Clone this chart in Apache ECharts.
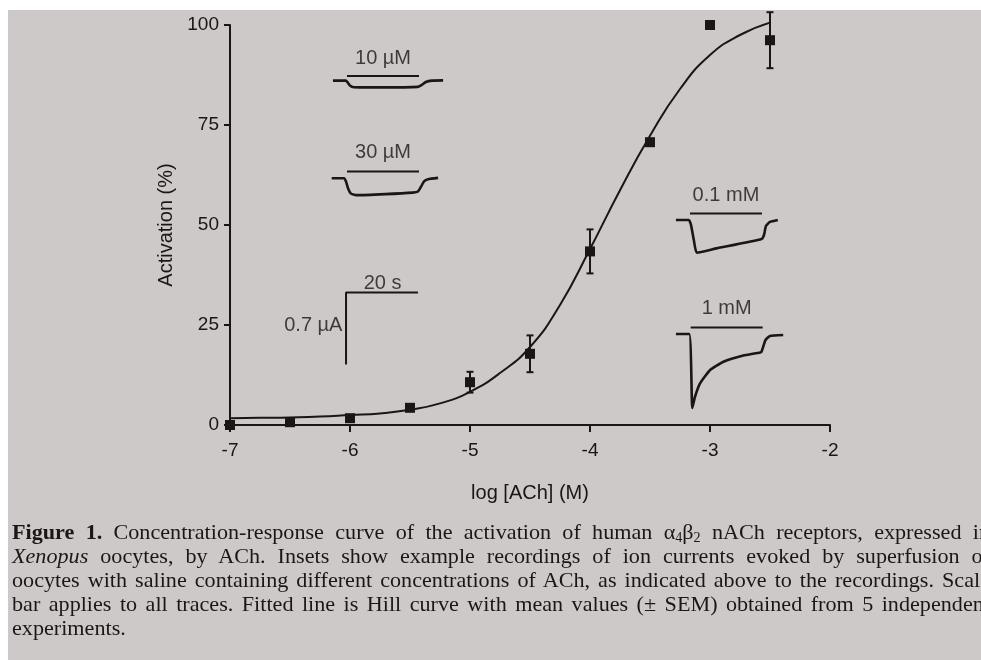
<!DOCTYPE html>
<html>
<head>
<meta charset="utf-8">
<script src="https://cdn.jsdelivr.net/npm/echarts@6/dist/echarts.min.js"></script>
<style>
  html, body { margin: 0; padding: 0; width: 981px; height: 660px; overflow: hidden; background: #fff; }
  #bg { position: absolute; left: 8px; top: 10px; right: 0; bottom: 0; background: #cdc9c8; }
  #chart { position: absolute; left: 0; top: 0; width: 981px; height: 660px; }
  #caption { position: absolute; left: 12px; top: 520px; width: 978px; transform-origin: left top;
    font-family: 'Liberation Serif', 'DejaVu Serif', serif; font-size: 22px; line-height: 24px; color: #1b1717; }
  #caption div { text-align: justify; text-align-last: justify; white-space: nowrap; }
  #caption div.last { text-align-last: left; }
  #caption sub { font-size: 14px; vertical-align: -3px; line-height: 0; }
</style>
</head>
<body>
<div id="bg"></div>
<div id="chart"></div>
<div id="caption">
  <div><span><b>Figure 1.</b> Concentration-response curve of the activation of human α<sub>4</sub>β<sub>2</sub> nACh receptors, expressed in</span></div>
  <div><span><i>Xenopus</i> oocytes, by ACh. Insets show example recordings of ion currents evoked by superfusion of</span></div>
  <div><span id="widest">oocytes with saline containing different concentrations of ACh, as indicated above to the recordings. Scale</span></div>
  <div><span>bar applies to all traces. Fitted line is Hill curve with mean values (± SEM) obtained from 5 independent</span></div>
  <div class="last"><span>experiments.</span></div>
</div>
<script>
// concentration-response data, log [ACh] (M) vs activation (%)
const doseLog = [-7, -6.5, -6, -5.5, -5, -4.5, -4, -3.5, -3, -2.5];
const activation = [0, 0.7, 1.7, 4.3, 10.7, 17.8, 43.4, 70.7, 100, 96.2];
const sem = [0, 0, 0, 0.8, 2.6, 4.6, 5.5, 0, 0, 7];

// fitted Hill curve
const fitLog = [-7, -6.75, -6.5, -6.25, -6, -5.75, -5.5, -5.25, -5, -4.75, -4.5, -4.25, -4, -3.75, -3.5, -3.25, -3, -2.75, -2.5];
const fitValues = [1.7, 1.8, 1.9, 2.1, 2.5, 2.9, 3.8, 5.4, 8.3, 13, 19.5, 30, 44, 58.7, 72.3, 84, 92.5, 97.5, 100.6];

// inset recordings: [time (s) from start of application, current (µA)]
const trace10uM = [[-3.9, 0], [-0.3, 0], [0.8, -0.047], [1.9, -0.064], [9.2, -0.066], [19.7, -0.061], [20.8, -0.042], [21.9, -0.013], [23.6, 0], [26.7, 0.002]];
const trace30uM = [[-4.25, 0], [-0.8, 0], [-0.3, -0.03], [0.3, -0.1], [1.1, -0.15], [2.5, -0.165], [10.6, -0.155], [18.3, -0.14], [19.7, -0.13], [20.6, -0.08], [21.4, -0.03], [22.5, -0.01], [25.3, 0.003]];
const trace01mM = [[-3.9, 0], [-0.3, 0], [0.3, -0.05], [1.1, -0.2], [1.9, -0.318], [7.4, -0.276], [19.9, -0.185], [20.6, -0.141], [21.1, -0.058], [22.2, -0.019], [24.4, 0]];
const trace1mM = [[-4.1, 0], [-0.4, 0], [0.44, -0.72], [1.2, -0.61], [2.6, -0.48], [5.4, -0.35], [9.1, -0.27], [14.6, -0.21], [19.3, -0.18], [19.7, -0.17], [20.8, -0.058], [22.0, -0.019], [25.7, -0.01]];
const insetLabels = ['10 µM', '30 µM', '0.1 mM', '1 mM'];
const applicationTime = 20; // s, bar length
const scaleBarTime = 20;    // s
const scaleBarCurrent = 0.7; // µA

// scale bar: 20 s = 0.6 log units, 0.7 µA = 18 % on the chart axes
const secToX = 0.6 / scaleBarTime;
const uaToY = 18 / scaleBarCurrent;

const ink = '#1a1616';
const font = "'Liberation Sans', Arial, sans-serif";

// caption: squeeze the serif text so the densest line just fills the block
const cap = document.getElementById('caption');
const fit = 985 / document.getElementById('widest').getBoundingClientRect().width;
cap.style.width = (978 / fit) + 'px';
cap.style.transform = 'scaleX(' + fit + ')';

// where each inset sits on the chart (x of bar start, y of baseline)
const insetPlace = [
  { x0: -6.025, y0: 86.1, bar: 1.15, label: 4.4 },
  { x0: -6.025, y0: 61.7, bar: 1.65, label: 4.8 },
  { x0: -3.167, y0: 51.25, bar: 1.65, label: 4.55 },
  { x0: -3.161, y0: 22.75, bar: 1.65, label: 4.75 }
];
const traces = [trace10uM, trace30uM, trace01mM, trace1mM];

const chart = echarts.init(document.getElementById('chart'));

const lineSeries = (data, width, smooth) => ({
  type: 'line',
  data: data,
  symbol: 'none',
  smooth: smooth || false,
  clip: false,
  silent: true,
  lineStyle: { color: ink, width: width },
  z: 3
});

const series = [];

traces.forEach((tr, i) => {
  const p = insetPlace[i];
  series.push(lineSeries(tr.map(d => [p.x0 + d[0] * secToX, p.y0 + d[1] * uaToY]), 2.6, 0.15));
  series.push(lineSeries([[p.x0, p.y0 + p.bar], [p.x0 + applicationTime * secToX, p.y0 + p.bar]], 2));
});

// scale bar
const sbX = -6.033, sbY = 33.1;
series.push(lineSeries([
  [sbX, sbY - scaleBarCurrent * uaToY],
  [sbX, sbY],
  [sbX + scaleBarTime * secToX, sbY]
], 2));

// text labels on the chart
const labelItems = insetLabels.map((t, i) => {
  const p = insetPlace[i];
  return { value: [p.x0 + applicationTime * secToX / 2, p.y0 + p.bar + p.label], label: { formatter: t } };
});
labelItems.push({ value: [sbX + scaleBarTime * secToX / 2 + 0.005, sbY + 2.4], label: { formatter: scaleBarTime + ' s' } });
labelItems.push({ value: [sbX - 0.03, sbY - 8.1], label: { formatter: scaleBarCurrent + ' µA', align: 'right' } });

series.push({
  type: 'scatter',
  data: labelItems,
  symbolSize: 1,
  silent: true,
  itemStyle: { color: 'transparent' },
  label: {
    show: true,
    position: 'inside',
    color: ink,
    fontFamily: font,
    fontSize: 20
  },
  z: 4
});

// fitted curve
series.push({
  type: 'line',
  data: fitLog.map((x, i) => [x, fitValues[i]]),
  smooth: 0.5,
  symbol: 'none',
  clip: false,
  lineStyle: { color: ink, width: 2 },
  z: 5
});

// error bars
series.push({
  type: 'custom',
  clip: false,
  z: 6,
  data: doseLog.map((x, i) => [x, activation[i] - sem[i], activation[i] + sem[i]]).filter((d, i) => sem[i] > 0),
  renderItem: (params, api) => {
    const top = api.coord([api.value(0), api.value(2)]);
    const bot = api.coord([api.value(0), api.value(1)]);
    const capW = 3.5;
    const style = { stroke: ink, lineWidth: 2 };
    return {
      type: 'group',
      children: [
        { type: 'line', shape: { x1: top[0], y1: top[1], x2: bot[0], y2: bot[1] }, style: style },
        { type: 'line', shape: { x1: top[0] - capW, y1: top[1], x2: top[0] + capW, y2: top[1] }, style: style },
        { type: 'line', shape: { x1: bot[0] - capW, y1: bot[1], x2: bot[0] + capW, y2: bot[1] }, style: style }
      ]
    };
  }
});

// mean values
series.push({
  type: 'scatter',
  data: doseLog.map((x, i) => [x, activation[i]]),
  symbol: 'rect',
  symbolSize: 10,
  clip: false,
  itemStyle: { color: ink, opacity: 1 },
  z: 7
});

const option = {
  animation: false,
  grid: { left: 230, top: 25, width: 600, height: 400 },
  xAxis: {
    type: 'value',
    min: -7,
    max: -2,
    interval: 1,
    name: 'log [ACh] (M)',
    nameLocation: 'middle',
    nameGap: 58,
    nameTextStyle: { color: ink, fontFamily: font, fontSize: 20 },
    axisLine: { show: true, onZero: false, lineStyle: { color: ink, width: 2 } },
    axisTick: { show: true, length: 7, lineStyle: { color: ink, width: 2 } },
    axisLabel: { color: ink, fontFamily: font, fontSize: 19, margin: 16 },
    splitLine: { show: false }
  },
  yAxis: {
    type: 'value',
    min: 0,
    max: 100,
    interval: 25,
    name: 'Activation (%)',
    nameLocation: 'middle',
    nameGap: 54,
    nameTextStyle: { color: ink, fontFamily: font, fontSize: 20 },
    axisLine: { show: true, onZero: false, lineStyle: { color: ink, width: 2 } },
    axisTick: { show: true, length: 6, lineStyle: { color: ink, width: 2 } },
    axisLabel: { color: ink, fontFamily: font, fontSize: 19, margin: 11 },
    splitLine: { show: false }
  },
  series: series
};

chart.setOption(option);
</script>
</body>
</html>
